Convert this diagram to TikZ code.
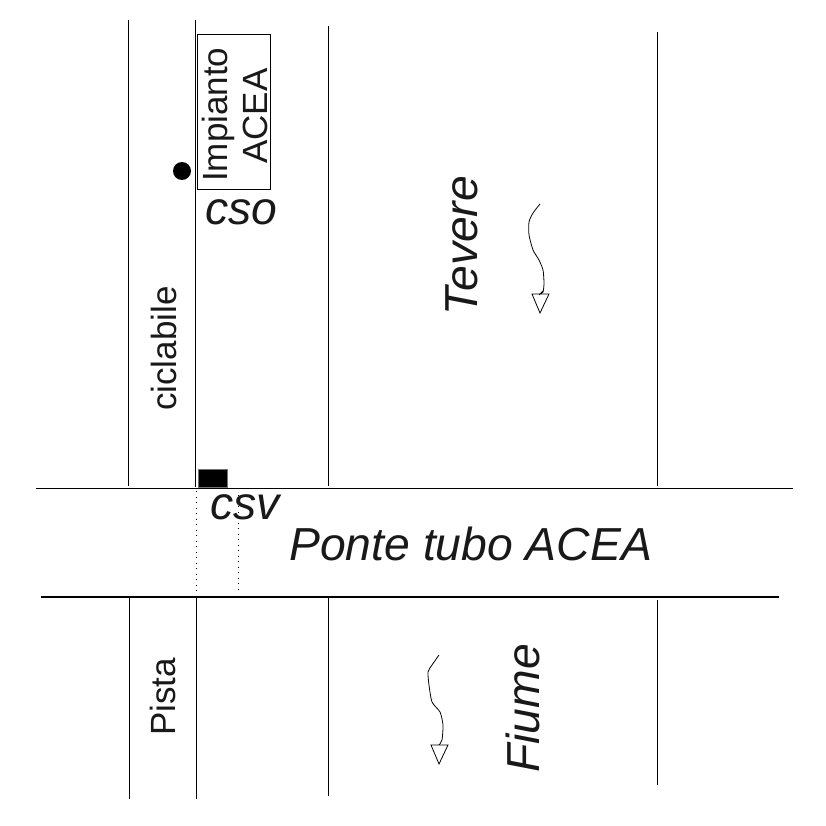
\documentclass[tikz,border=0pt]{standalone}
\usepackage{fontspec}
\setmainfont{Liberation Sans}
\tikzset{
  thin line/.style={draw=black,line width=0.9pt},
  thick line/.style={draw=black,line width=1.5pt},
  dotted line/.style={draw=black,line width=1pt,dash pattern=on 1pt off 4.5pt},
  uptext/.style={anchor=base west,inner sep=0pt,rotate=90,text=black!90,font=\fontsize{35}{35}\selectfont},
  itext/.style={anchor=base west,inner sep=0pt,text=black!90,font=\fontsize{46.3}{46.3}\selectfont\itshape},
  itextup/.style={itext,rotate=90},
  tiphead/.style={draw=black,line width=0.8pt,fill=white},
}
\begin{document}
\begin{tikzpicture}[x=1pt,y=-1pt]
\useasboundingbox (0,0) rectangle (826,826);
% upper verticals
\draw[thin line] (128,20) -- (128,486);
\draw[thin line] (195,20) -- (195,487);
\draw[thin line] (328,26) -- (328,486);
\draw[thin line] (657,32) -- (657,486);
% lower verticals
\draw[thin line] (129,598) -- (129,799);
\draw[thin line] (196,598) -- (196,799);
\draw[thin line] (328,598) -- (328,796);
\draw[thin line] (657,600) -- (657,785);
% bridge
\draw[thin line] (36,488) -- (793,488);
\draw[thick line] (41,597) -- (779,597);
\draw[dotted line] (196,491) -- (196,596);
\draw[dotted line] (238,495) -- (238,594);
% plant
\node[draw=black,line width=0.8pt,fill=none,inner sep=0pt,minimum width=73.5pt,minimum height=155pt,anchor=north west] (box) at (196.5,34) {};
\node[uptext] (imp) at (227,182) {Impianto};
\node[uptext] (acea) at (267,164) {ACEA};
\fill[black] (182,171) circle[radius=9] coordinate (dot);
\node[draw=black!55,line width=0.8pt,fill=black,inner sep=0pt,minimum width=29pt,minimum height=18pt,anchor=north west] (csvbox) at (198,469) {};
% labels
\node[itext] (cso) at (205,225) {cso};
\node[itext] (csv) at (210,519) {csv};
\node[itext] (ponte) at (289,560) {Ponte tubo ACEA};
\node[itextup] (tevere) at (477,316) {Tevere};
\node[itextup] (fiume) at (539,773) {Fiume};
\node[uptext] (cic) at (176,411) {ciclabile};
\node[uptext] (pista) at (175,736) {Pista};
% flow arrows
\draw[line width=0.8pt] plot[smooth,tension=0.4] coordinates {(540,204) (533,213) (529,222) (529,235) (533,250) (539,260) (543,270) (544,283) (543,292) (539,295)};
\draw[tiphead] (532,294) -- (549,294) -- (540,313) -- cycle;
\draw[line width=0.8pt] (543,291) -- (539,295);
\draw[line width=0.8pt] plot[smooth,tension=0.4] coordinates {(439,655) (432,665) (428,672) (429,685) (432,702) (440,712) (443,725) (442,740) (439,745)};
\draw[tiphead] (431,745) -- (448,745) -- (439,764) -- cycle;
\end{tikzpicture}
\end{document}
